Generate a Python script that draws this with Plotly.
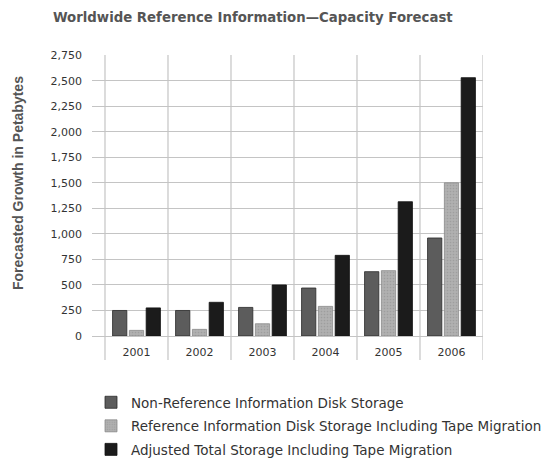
import plotly.graph_objects as go

years = ["2001", "2002", "2003", "2004", "2005", "2006"]
non_ref = [250, 250, 280, 470, 630, 960]
ref_tape = [55, 65, 120, 290, 640, 1500]
adjusted = [275, 330, 500, 790, 1315, 2530]
series_names = [
    "Non-Reference Information Disk Storage",
    "Reference Information Disk Storage Including Tape Migration",
    "Adjusted Total Storage Including Tape Migration",
]
y_ticks = list(range(0, 2751, 250))

W, H = 552, 459
ML, MR, MT, MB = 92, 69, 55, 123
plot_h = H - MT - MB
plot_w = W - ML - MR

fig = go.Figure()
fig.add_trace(go.Bar(x=years, y=non_ref, name=series_names[0], legendgroup="a",
                     marker=dict(color="#5c5c5c", line=dict(color="#2a2a2a", width=0.8))))
fig.add_trace(go.Bar(x=years, y=ref_tape, name=series_names[1], legendgroup="b",
                     marker=dict(color="#aaaaaa", line=dict(color="#8a8a8a", width=0.8),
                                 pattern=dict(shape=".", size=3, solidity=0.25, fgcolor="#8c8c8c", bgcolor="#b0b0b0"))))
fig.add_trace(go.Bar(x=years, y=adjusted, name=series_names[2], legendgroup="c",
                     marker=dict(color="#1b1b1b", line=dict(color="#111111", width=0.8))))

# vertical category separators extending below the plot
ext = 24 / plot_h
for i in range(len(years) + 1):
    fig.add_shape(type="line", xref="x", yref="paper", x0=i - 0.5, x1=i - 0.5,
                  y0=-ext, y1=1, line=dict(color="#c4c4c4", width=1.2), layer="below")

# y-axis title
fig.add_annotation(text="<b>Forecasted Growth in Petabytes</b>", textangle=-90,
                   xref="paper", yref="paper", x=(18 - ML) / plot_w, y=(H - MB - 183) / plot_h,
                   xanchor="center", yanchor="middle", showarrow=False,
                   font=dict(family="Liberation Sans", size=14, color="#555555"))

fig.update_layout(
    width=W, height=H,
    margin=dict(l=ML, r=MR, t=MT, b=MB, autoexpand=False),
    paper_bgcolor="white", plot_bgcolor="white",
    barmode="group", bargap=0.2, bargroupgap=0.15,
    font=dict(family="DejaVu Sans, sans-serif", color="#333333"),
    title=dict(text="<b>Worldwide Reference Information—Capacity Forecast</b>",
               x=0.458, xanchor="center", y=1 - 17 / H, yanchor="middle",
               font=dict(family="DejaVu Sans", size=13.3, color="#555555")),
    xaxis=dict(type="category", range=[-0.5 - 13 / 63, 5.5], showgrid=False,
               showline=False, zeroline=False, ticks="", ticklabelstandoff=8,
               tickfont=dict(size=11, color="#333333")),
    yaxis=dict(range=[0, 2752], tickvals=y_ticks, tickformat=",d",
               showgrid=True, gridcolor="#c4c4c4", gridwidth=1.2,
               zeroline=True, zerolinecolor="#c4c4c4", zerolinewidth=1.2,
               showline=False, ticks="", ticklabelstandoff=9,
               tickfont=dict(size=11, color="#333333")),
    showlegend=True,
    legend=dict(x=(91 - ML) / plot_w, xanchor="left",
                y=-(387 - (H - MB)) / plot_h, yanchor="top",
                font=dict(size=13.5, color="#333333"), tracegroupgap=3,
                traceorder="grouped", bgcolor="rgba(0,0,0,0)"),
)

fig.write_html("out.html")
